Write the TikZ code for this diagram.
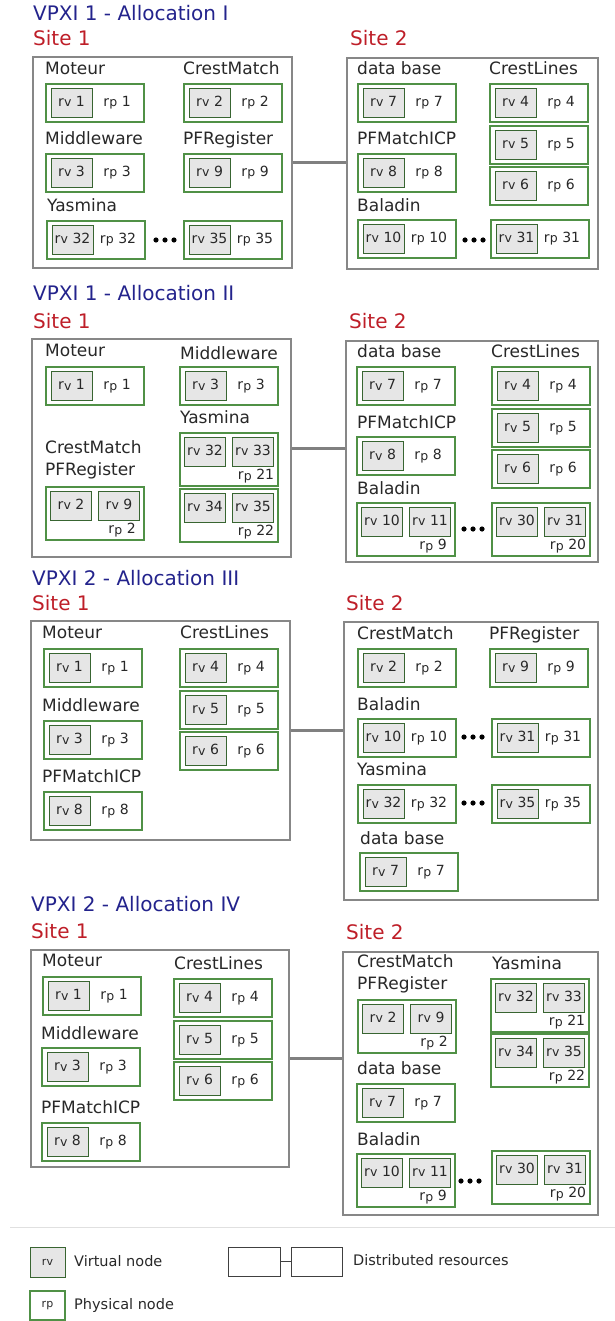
\documentclass[tikz,border=0pt]{standalone}
\usepackage{fontspec}
\setmainfont{DejaVu Sans}
\usetikzlibrary{positioning}
\definecolor{titleblue}{RGB}{35,35,140}
\definecolor{sitered}{RGB}{190,30,40}
\definecolor{vmgreen}{RGB}{80,145,70}
\definecolor{vgray}{RGB}{230,230,230}
\definecolor{sitegray}{RGB}{135,135,135}
\definecolor{linkgray}{RGB}{128,128,128}
\definecolor{txtgray}{RGB}{40,40,40}
\tikzset{
		site/.style={draw=sitegray, line width=1.1pt, fill=white, inner sep=0pt},
		pnode/.style={draw=vmgreen, line width=1.2pt, fill=white, inner sep=0pt},
		vnode/.style={draw=vmgreen!70!black, line width=1pt, fill=vgray, inner sep=0pt,
			minimum width=41pt, minimum height=29pt, text height=0.72em, text depth=0pt,
			font=\fontsize{14}{14}\selectfont, text=txtgray},
		ptext/.style={inner sep=0pt, text height=0.72em, text depth=0pt,
			font=\fontsize{14}{14}\selectfont, text=txtgray},
		applabel/.style={anchor=west, inner sep=0pt, text height=0.72em, text depth=0pt,
			font=\fontsize{17}{17}\selectfont, text=txtgray},
		sitelabel/.style={anchor=west, inner sep=0pt, text height=0.72em, text depth=0pt,
			font=\fontsize{20}{20}\selectfont, text=sitered},
		titlelabel/.style={anchor=west, inner sep=0pt, text height=0.72em, text depth=0pt,
			font=\fontsize{20}{20}\selectfont, text=titleblue},
		legendlabel/.style={anchor=west, inner sep=0pt, text height=0.72em, text depth=0pt,
			font=\fontsize{14.5}{14.5}\selectfont, text=txtgray},
		link/.style={draw=linkgray, line width=3pt}
	}
\newcommand{\rvtxt}{r\kern0.3pt\raisebox{-0.4pt}{\fontsize{12.5}{12.5}\selectfont v}}
\newcommand{\rptxt}{r\kern0.3pt\raisebox{-0.4pt}{\fontsize{12.5}{12.5}\selectfont p}}
% site box from corner to corner
\newcommand{\sitebox}[5]{%
	\node[site, minimum width={#4-#2}, minimum height={#5-#3}] (#1) at ({(#2+#4)/2},{(#3+#5)/2}) {};}
% one virtual node on one physical node
\newcommand{\onevm}[5]{%
	\node[pnode, minimum width=98pt, minimum height=38pt] (#1) at (#2+49,#3+19) {};
	\node[vnode] (#1v) at (#2+25.5,#3+19) {\rvtxt\ #4};
	\node[ptext] (#1p) at (#2+71,#3+19) {\rptxt\ #5};}
% two virtual nodes on one physical node
\newcommand{\twovm}[6]{%
	\node[pnode, minimum width=98pt, minimum height=53pt] (#1) at (#2+49,#3+26.5) {};
	\node[vnode] (#1a) at (#2+25,#3+18.5) {\rvtxt\ #4};
	\node[vnode] (#1b) at (#2+73,#3+18.5) {\rvtxt\ #5};
	\node[ptext] (#1p) at (#2+76,#3+43) {\rptxt\ #6};}
\newcommand{\vmdots}[2]{%
	\fill[black] (#1-9,#2) circle (2.6pt) (#1,#2) circle (2.6pt) (#1+9,#2) circle (2.6pt);}

\begin{document}
\begin{tikzpicture}[x=1pt, y=-1pt]
		\useasboundingbox (0,0) rectangle (615,1321);

		% VPXI 1 - Allocation I
		\node[titlelabel] (ta) at (33,17) {VPXI 1 - Allocation I};
		\node[sitelabel] (sa1) at (33,42) {Site 1};
		\node[sitelabel] (sa2) at (350,42) {Site 2};
		\sitebox{s1a}{33}{57}{292}{268}
		\sitebox{s2a}{347}{58}{598}{269}
		\draw[link] (s1a.east) -- (s1a.east -| s2a.west);
		\node[applabel] (la-mot) at (45,71) {Moteur};
		\node[applabel] (la-cm) at (183,71) {CrestMatch};
		\node[applabel] (la-mid) at (45,141) {Middleware};
		\node[applabel] (la-pfr) at (183,141) {PFRegister};
		\node[applabel] (la-yas) at (47,208) {Yasmina};
		\onevm{a1}{46}{84}{1}{1}
		\onevm{a2}{184}{84}{2}{2}
		\onevm{a3}{46}{154}{3}{3}
		\onevm{a9}{184}{154}{9}{9}
		\onevm{a32}{47}{221}{32}{32}
		\onevm{a35}{184}{221}{35}{35}
		\vmdots{165}{240}
		\node[applabel] (la-db) at (357,71) {data base};
		\node[applabel] (la-cl) at (489,71) {CrestLines};
		\node[applabel] (la-icp) at (357,141) {PFMatchICP};
		\node[applabel] (la-bal) at (357,208) {Baladin};
		\onevm{a7}{358}{84}{7}{7}
		\onevm{a4}{490}{84}{4}{4}
		\onevm{a5}{490}{126}{5}{5}
		\onevm{a6}{490}{167}{6}{6}
		\onevm{a8}{358}{154}{8}{8}
		\onevm{a10}{358}{220}{10}{10}
		\onevm{a31}{491}{220}{31}{31}
		\vmdots{474}{240}

		% VPXI 1 - Allocation II
		\node[titlelabel] (tb) at (33,297) {VPXI 1 - Allocation II};
		\node[sitelabel] (sb1) at (33,325) {Site 1};
		\node[sitelabel] (sb2) at (349,325) {Site 2};
		\sitebox{s1b}{32}{339}{291}{557}
		\sitebox{s2b}{346}{341}{598}{562}
		\draw[link] (s1b.east) -- (s1b.east -| s2b.west);
		\node[applabel] (lb-mot) at (45,353) {Moteur};
		\node[applabel] (lb-mid) at (180,356) {Middleware};
		\node[applabel] (lb-yas) at (180,420) {Yasmina};
		\node[applabel] (lb-cm) at (45,450) {CrestMatch};
		\node[applabel] (lb-pfr) at (45,472) {PFRegister};
		\onevm{b1}{46}{367}{1}{1}
		\onevm{b3}{180}{367}{3}{3}
		\twovm{b32}{180}{433}{32}{33}{21}
		\twovm{b34}{180}{489}{34}{35}{22}
		\twovm{b2}{46}{487}{2}{9}{2}
		\node[applabel] (lb-db) at (357,354) {data base};
		\node[applabel] (lb-cl) at (491,354) {CrestLines};
		\node[applabel] (lb-icp) at (357,425) {PFMatchICP};
		\node[applabel] (lb-bal) at (357,491) {Baladin};
		\onevm{b7}{357}{367}{7}{7}
		\onevm{b4}{492}{367}{4}{4}
		\onevm{b5}{492}{409}{5}{5}
		\onevm{b6}{492}{450}{6}{6}
		\onevm{b8}{357}{437}{8}{8}
		\twovm{b10}{357}{503}{10}{11}{9}
		\twovm{b30}{492}{503}{30}{31}{20}
		\vmdots{473}{529}

		% VPXI 2 - Allocation III
		\node[titlelabel] (tc) at (32,582) {VPXI 2 - Allocation III};
		\node[sitelabel] (sc1) at (32,607) {Site 1};
		\node[sitelabel] (sc2) at (346,607) {Site 2};
		\sitebox{s1c}{31}{621}{290}{840}
		\sitebox{s2c}{344}{622}{598}{900}
		\draw[link] (s1c.east) -- (s1c.east -| s2c.west);
		\node[applabel] (lc-mot) at (42,635) {Moteur};
		\node[applabel] (lc-mid) at (42,708) {Middleware};
		\node[applabel] (lc-icp) at (42,779) {PFMatchICP};
		\node[applabel] (lc-cl) at (180,635) {CrestLines};
		\onevm{c1}{44}{649}{1}{1}
		\onevm{c3}{44}{721}{3}{3}
		\onevm{c8}{44}{792}{8}{8}
		\onevm{c4}{180}{649}{4}{4}
		\onevm{c5}{180}{691}{5}{5}
		\onevm{c6}{180}{732}{6}{6}
		\node[applabel] (lc-cm) at (357,636) {CrestMatch};
		\node[applabel] (lc-pfr) at (489,636) {PFRegister};
		\node[applabel] (lc-bal) at (357,707) {Baladin};
		\node[applabel] (lc-yas) at (357,772) {Yasmina};
		\node[applabel] (lc-db) at (360,841) {data base};
		\onevm{c2}{358}{649}{2}{2}
		\onevm{c9}{490}{649}{9}{9}
		\onevm{c10}{358}{719}{10}{10}
		\onevm{c31}{492}{719}{31}{31}
		\vmdots{473}{737}
		\onevm{c32}{358}{785}{32}{32}
		\onevm{c35}{492}{785}{35}{35}
		\vmdots{473}{803}
		\onevm{c7}{360}{853}{7}{7}

		% VPXI 2 - Allocation IV
		\node[titlelabel] (td) at (31,908) {VPXI 2 - Allocation IV};
		\node[sitelabel] (sd1) at (31,935) {Site 1};
		\node[sitelabel] (sd2) at (346,936) {Site 2};
		\sitebox{s1d}{31}{950}{289}{1167}
		\sitebox{s2d}{343}{952}{598}{1215}
		\draw[link] (s1d.east) -- (s1d.east -| s2d.west);
		\node[applabel] (ld-mot) at (42,963) {Moteur};
		\node[applabel] (ld-mid) at (41,1036) {Middleware};
		\node[applabel] (ld-icp) at (41,1110) {PFMatchICP};
		\node[applabel] (ld-cl) at (174,966) {CrestLines};
		\onevm{d1}{43}{977}{1}{1}
		\onevm{d3}{42}{1048}{3}{3}
		\onevm{d8}{42}{1123}{8}{8}
		\onevm{d4}{174}{979}{4}{4}
		\onevm{d5}{174}{1021}{5}{5}
		\onevm{d6}{174}{1062}{6}{6}
		\node[applabel] (ld-cm) at (357,964) {CrestMatch};
		\node[applabel] (ld-pfr) at (357,986) {PFRegister};
		\node[applabel] (ld-yas) at (492,966) {Yasmina};
		\node[applabel] (ld-db) at (357,1071) {data base};
		\node[applabel] (ld-bal) at (357,1142) {Baladin};
		\twovm{d2}{358}{1000}{2}{9}{2}
		\twovm{d32}{491}{979}{32}{33}{21}
		\twovm{d34}{491}{1034}{34}{35}{22}
		\onevm{d7}{357}{1084}{7}{7}
		\twovm{d10}{357}{1154}{10}{11}{9}
		\twovm{d30}{492}{1151}{30}{31}{20}
		\vmdots{470}{1181}

		% legend
		\draw[black!12, line width=1pt] (10,1227) -- (615,1227);
		\node[vnode, minimum width=35pt, minimum height=30pt, font=\fontsize{11}{11}\selectfont] (lgv) at (47.5,1262) {rv};
		\node[legendlabel] (lgvt) at (74,1263) {Virtual node};
		\node[pnode, minimum width=35pt, minimum height=29pt, font=\fontsize{11}{11}\selectfont, text=txtgray] (lgp) at (47.5,1305.5) {rp};
		\node[legendlabel] (lgpt) at (74,1306) {Physical node};
		\node[draw=black!75, line width=1pt, minimum width=52pt, minimum height=29pt] (lgd1) at (254,1261.5) {};
		\node[draw=black!75, line width=1pt, minimum width=51pt, minimum height=29pt] (lgd2) at (316.5,1261.5) {};
		\draw[black!75, line width=1pt] (lgd1) -- (lgd2);
		\node[legendlabel] (lgdt) at (353,1262) {Distributed resources};
	\end{tikzpicture}
\end{document}
